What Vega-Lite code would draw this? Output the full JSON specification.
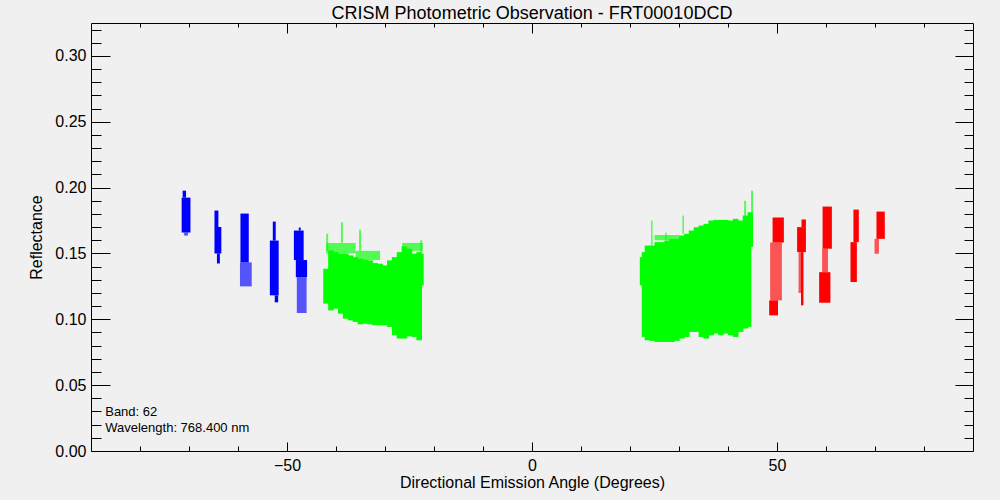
{
  "$schema": "https://vega.github.io/schema/vega-lite/v6.json",
  "width": 882,
  "height": 428,
  "autosize": "none",
  "padding": {"left": 91, "top": 23, "right": 27, "bottom": 49},
  "background": "#f0f0f0",
  "title": {
    "text": "CRISM Photometric Observation - FRT00010DCD",
    "fontSize": 18,
    "fontWeight": "normal",
    "color": "black",
    "anchor": "middle",
    "offset": 0
  },
  "datasets": {
    "segments": [
      {"group": "G1", "density": "dense", "x": -71.5, "x2": -69.7, "y": 0.1659, "y2": 0.1924},
      {"group": "G1", "density": "dense", "x": -71.3, "x2": -70.6, "y": 0.1924, "y2": 0.1977},
      {"group": "G1", "density": "sparse", "x": -71.0, "x2": -70.2, "y": 0.1636, "y2": 0.1659},
      {"group": "G1", "density": "dense", "x": -64.8, "x2": -64.0, "y": 0.170, "y2": 0.1826},
      {"group": "G1", "density": "dense", "x": -64.8, "x2": -63.4, "y": 0.150, "y2": 0.170},
      {"group": "G1", "density": "dense", "x": -64.3, "x2": -63.7, "y": 0.1424, "y2": 0.150},
      {"group": "G1", "density": "dense", "x": -59.5, "x2": -57.8, "y": 0.1432, "y2": 0.1803},
      {"group": "G1", "density": "sparse", "x": -59.6, "x2": -57.2, "y": 0.125, "y2": 0.1432},
      {"group": "G1", "density": "dense", "x": -52.9, "x2": -52.3, "y": 0.1598, "y2": 0.1742},
      {"group": "G1", "density": "dense", "x": -53.5, "x2": -51.7, "y": 0.1182, "y2": 0.1598},
      {"group": "G1", "density": "dense", "x": -52.5, "x2": -51.8, "y": 0.1129, "y2": 0.1182},
      {"group": "G1", "density": "dense", "x": -48.6, "x2": -46.6, "y": 0.145, "y2": 0.1674},
      {"group": "G1", "density": "dense", "x": -47.6, "x2": -47.2, "y": 0.1674, "y2": 0.1697},
      {"group": "G1", "density": "dense", "x": -48.2, "x2": -45.9, "y": 0.132, "y2": 0.145},
      {"group": "G1", "density": "sparse", "x": -48.0, "x2": -46.0, "y": 0.1048, "y2": 0.132},

      {"group": "G2", "density": "dense", "x": -42.6, "x2": -41.45, "y": 0.1119, "y2": 0.1384},
      {"group": "G2", "density": "dense", "x": -41.6, "x2": -40.45, "y": 0.1068, "y2": 0.1523},
      {"group": "G2", "density": "dense", "x": -40.6, "x2": -39.45, "y": 0.1081, "y2": 0.151},
      {"group": "G2", "density": "dense", "x": -39.6, "x2": -38.45, "y": 0.1043, "y2": 0.1498},
      {"group": "G2", "density": "dense", "x": -38.6, "x2": -37.45, "y": 0.1005, "y2": 0.1498},
      {"group": "G2", "density": "dense", "x": -37.6, "x2": -36.45, "y": 0.0992, "y2": 0.1485},
      {"group": "G2", "density": "dense", "x": -36.6, "x2": -35.45, "y": 0.098, "y2": 0.1472},
      {"group": "G2", "density": "dense", "x": -35.6, "x2": -34.45, "y": 0.0962, "y2": 0.146},
      {"group": "G2", "density": "dense", "x": -34.6, "x2": -33.45, "y": 0.0967, "y2": 0.1452},
      {"group": "G2", "density": "dense", "x": -33.6, "x2": -32.45, "y": 0.0962, "y2": 0.1447},
      {"group": "G2", "density": "dense", "x": -32.6, "x2": -31.45, "y": 0.0955, "y2": 0.1427},
      {"group": "G2", "density": "dense", "x": -31.6, "x2": -30.45, "y": 0.0955, "y2": 0.1422},
      {"group": "G2", "density": "dense", "x": -30.6, "x2": -29.45, "y": 0.0955, "y2": 0.1409},
      {"group": "G2", "density": "dense", "x": -29.6, "x2": -28.45, "y": 0.0942, "y2": 0.1447},
      {"group": "G2", "density": "dense", "x": -28.6, "x2": -27.45, "y": 0.0879, "y2": 0.1472},
      {"group": "G2", "density": "dense", "x": -27.6, "x2": -26.45, "y": 0.0854, "y2": 0.151},
      {"group": "G2", "density": "dense", "x": -26.6, "x2": -25.45, "y": 0.0854, "y2": 0.1553},
      {"group": "G2", "density": "dense", "x": -25.6, "x2": -24.45, "y": 0.0871, "y2": 0.1536},
      {"group": "G2", "density": "dense", "x": -24.6, "x2": -23.45, "y": 0.0866, "y2": 0.1498},
      {"group": "G2", "density": "dense", "x": -23.6, "x2": -22.45, "y": 0.0841, "y2": 0.151},
      {"group": "G2", "density": "dense", "x": -22.6, "x2": -22.1, "y": 0.1258, "y2": 0.1498},
      {"group": "G2", "density": "sparse", "x": -42.0, "x2": -36.0, "y": 0.150, "y2": 0.158},
      {"group": "G2", "density": "sparse", "x": -36.0, "x2": -31.0, "y": 0.145, "y2": 0.152},
      {"group": "G2", "density": "sparse", "x": -26.5, "x2": -22.3, "y": 0.152, "y2": 0.158},
      {"group": "G2", "density": "sparse", "x": -39.0, "x2": -38.6, "y": 0.158, "y2": 0.1737},
      {"group": "G2", "density": "sparse", "x": -35.3, "x2": -34.9, "y": 0.152, "y2": 0.168},
      {"group": "G2", "density": "sparse", "x": -42.0, "x2": -41.6, "y": 0.152, "y2": 0.165},
      {"group": "G2", "density": "sparse", "x": -22.8, "x2": -22.4, "y": 0.151, "y2": 0.160},

      {"group": "G2", "density": "dense", "x": 22.0, "x2": 22.5, "y": 0.1258, "y2": 0.1472},
      {"group": "G2", "density": "dense", "x": 22.4, "x2": 23.15, "y": 0.0866, "y2": 0.151},
      {"group": "G2", "density": "dense", "x": 23.0, "x2": 24.15, "y": 0.0841, "y2": 0.156},
      {"group": "G2", "density": "dense", "x": 24.0, "x2": 25.15, "y": 0.0836, "y2": 0.156},
      {"group": "G2", "density": "dense", "x": 25.0, "x2": 26.15, "y": 0.0828, "y2": 0.1586},
      {"group": "G2", "density": "dense", "x": 26.0, "x2": 27.15, "y": 0.0828, "y2": 0.1586},
      {"group": "G2", "density": "dense", "x": 27.0, "x2": 28.15, "y": 0.0828, "y2": 0.1598},
      {"group": "G2", "density": "dense", "x": 28.0, "x2": 29.15, "y": 0.0828, "y2": 0.1611},
      {"group": "G2", "density": "dense", "x": 29.0, "x2": 30.15, "y": 0.0836, "y2": 0.1611},
      {"group": "G2", "density": "dense", "x": 30.0, "x2": 31.15, "y": 0.0854, "y2": 0.1636},
      {"group": "G2", "density": "dense", "x": 31.0, "x2": 32.15, "y": 0.0866, "y2": 0.1649},
      {"group": "G2", "density": "dense", "x": 32.0, "x2": 33.15, "y": 0.0904, "y2": 0.1674},
      {"group": "G2", "density": "dense", "x": 33.0, "x2": 34.15, "y": 0.0904, "y2": 0.1699},
      {"group": "G2", "density": "dense", "x": 34.0, "x2": 35.15, "y": 0.0866, "y2": 0.1712},
      {"group": "G2", "density": "dense", "x": 35.0, "x2": 36.15, "y": 0.0854, "y2": 0.1725},
      {"group": "G2", "density": "dense", "x": 36.0, "x2": 37.15, "y": 0.0879, "y2": 0.175},
      {"group": "G2", "density": "dense", "x": 37.0, "x2": 38.15, "y": 0.0892, "y2": 0.1755},
      {"group": "G2", "density": "dense", "x": 38.0, "x2": 39.15, "y": 0.0879, "y2": 0.1755},
      {"group": "G2", "density": "dense", "x": 39.0, "x2": 40.15, "y": 0.0892, "y2": 0.1755},
      {"group": "G2", "density": "dense", "x": 40.0, "x2": 41.15, "y": 0.0879, "y2": 0.175},
      {"group": "G2", "density": "dense", "x": 41.0, "x2": 42.15, "y": 0.0866, "y2": 0.1763},
      {"group": "G2", "density": "dense", "x": 42.0, "x2": 43.15, "y": 0.0904, "y2": 0.175},
      {"group": "G2", "density": "dense", "x": 43.0, "x2": 44.15, "y": 0.093, "y2": 0.1788},
      {"group": "G2", "density": "dense", "x": 44.0, "x2": 44.75, "y": 0.0942, "y2": 0.1813},
      {"group": "G2", "density": "dense", "x": 44.6, "x2": 45.1, "y": 0.155, "y2": 0.1813},
      {"group": "G2", "density": "sparse", "x": 44.7, "x2": 45.1, "y": 0.1813, "y2": 0.1977},
      {"group": "G2", "density": "sparse", "x": 43.3, "x2": 43.7, "y": 0.178, "y2": 0.190},
      {"group": "G2", "density": "sparse", "x": 24.3, "x2": 24.6, "y": 0.156, "y2": 0.175},
      {"group": "G2", "density": "sparse", "x": 27.2, "x2": 27.5, "y": 0.160, "y2": 0.166},
      {"group": "G2", "density": "sparse", "x": 30.7, "x2": 31.0, "y": 0.1649, "y2": 0.1788},
      {"group": "G2", "density": "sparse", "x": 25.0, "x2": 30.0, "y": 0.160, "y2": 0.164},

      {"group": "G3", "density": "dense", "x": 49.1, "x2": 51.4, "y": 0.1583, "y2": 0.1773},
      {"group": "G3", "density": "sparse", "x": 48.6, "x2": 51.0, "y": 0.1144, "y2": 0.1583},
      {"group": "G3", "density": "dense", "x": 48.4, "x2": 50.2, "y": 0.103, "y2": 0.1144},
      {"group": "G3", "density": "dense", "x": 54.1, "x2": 55.9, "y": 0.151, "y2": 0.170},
      {"group": "G3", "density": "dense", "x": 55.0, "x2": 55.9, "y": 0.170, "y2": 0.1758},
      {"group": "G3", "density": "dense", "x": 54.9, "x2": 55.4, "y": 0.1106, "y2": 0.151},
      {"group": "G3", "density": "sparse", "x": 54.4, "x2": 54.9, "y": 0.120, "y2": 0.151},
      {"group": "G3", "density": "dense", "x": 59.3, "x2": 61.2, "y": 0.1536, "y2": 0.1856},
      {"group": "G3", "density": "sparse", "x": 59.2, "x2": 60.4, "y": 0.1358, "y2": 0.1536},
      {"group": "G3", "density": "dense", "x": 58.6, "x2": 60.9, "y": 0.1126, "y2": 0.1358},
      {"group": "G3", "density": "dense", "x": 65.6, "x2": 66.7, "y": 0.1586, "y2": 0.1833},
      {"group": "G3", "density": "dense", "x": 65.0, "x2": 66.3, "y": 0.1283, "y2": 0.1586},
      {"group": "G3", "density": "dense", "x": 70.3, "x2": 72.0, "y": 0.1611, "y2": 0.1818},
      {"group": "G3", "density": "sparse", "x": 69.9, "x2": 70.8, "y": 0.1498, "y2": 0.1611}
    ],
    "notes": [
      {"label": "Band: 62", "x": -87.1, "y": 0.0294},
      {"label": "Wavelength: 768.400 nm", "x": -87.1, "y": 0.0174}
    ]
  },
  "layer": [
    {
      "data": {"name": "segments"},
      "mark": {"type": "rect"},
      "encoding": {
        "x": {
          "field": "x",
          "type": "quantitative",
          "scale": {"domain": [-90, 90], "nice": false, "zero": false},
          "axis": {
            "orient": "bottom",
            "values": [-50, 0, 50],
            "format": "d",
            "ticks": false,
            "domain": false,
            "grid": false,
            "labelPadding": 6,
            "labelFlush": false,
            "title": "Directional Emission Angle (Degrees)",
            "titlePadding": 1
          }
        },
        "x2": {"field": "x2"},
        "y": {
          "field": "y",
          "type": "quantitative",
          "scale": {"domain": [0, 0.325], "nice": false, "zero": false},
          "axis": {
            "orient": "left",
            "values": [0, 0.05, 0.1, 0.15, 0.2, 0.25, 0.3],
            "format": ".2f",
            "ticks": false,
            "domain": false,
            "grid": false,
            "labelPadding": 5,
            "labelFlush": false,
            "title": "Reflectance",
            "titlePadding": 10
          }
        },
        "y2": {"field": "y2"},
        "color": {
          "field": "group",
          "type": "nominal",
          "scale": {"domain": ["G1", "G2", "G3"], "range": ["#0000ff", "#00ff00", "#ff0000"]},
          "legend": null
        },
        "opacity": {
          "field": "density",
          "type": "nominal",
          "scale": {"domain": ["dense", "sparse"], "range": [1, 0.65]},
          "legend": null
        }
      }
    },
    {
      "data": {"name": "notes"},
      "mark": {"type": "text", "align": "left", "baseline": "middle", "fontSize": 13, "color": "black"},
      "encoding": {
        "x": {
          "field": "x",
          "type": "quantitative",
          "axis": {"orient": "bottom", "values": [-50, 0, 50], "labels": false, "domain": false, "grid": false, "tickSize": -9, "title": null}
        },
        "y": {
          "field": "y",
          "type": "quantitative",
          "axis": {"orient": "left", "values": [0, 0.05, 0.1, 0.15, 0.2, 0.25, 0.3], "labels": false, "domain": false, "grid": false, "tickSize": -19, "title": null}
        },
        "text": {"field": "label"}
      }
    },
    {
      "data": {"values": [{}]},
      "mark": {"type": "point", "opacity": 0},
      "encoding": {
        "x": {
          "datum": 0,
          "type": "quantitative",
          "axis": {"orient": "bottom", "values": [-80, -70, -60, -40, -30, -20, -10, 10, 20, 30, 40, 60, 70, 80], "labels": false, "domain": false, "grid": false, "tickSize": -5, "title": null}
        },
        "y": {
          "datum": 0,
          "type": "quantitative",
          "axis": {"orient": "left", "values": [0.01, 0.02, 0.03, 0.04, 0.06, 0.07, 0.08, 0.09, 0.11, 0.12, 0.13, 0.14, 0.16, 0.17, 0.18, 0.19, 0.21, 0.22, 0.23, 0.24, 0.26, 0.27, 0.28, 0.29, 0.31, 0.32], "labels": false, "domain": false, "grid": false, "tickSize": -10, "title": null}
        }
      }
    },
    {
      "data": {"values": [{}]},
      "mark": {"type": "point", "opacity": 0},
      "encoding": {
        "x": {
          "datum": 0,
          "type": "quantitative",
          "axis": {"orient": "top", "values": [-50, 0, 50], "labels": false, "domain": false, "grid": false, "tickSize": -10, "title": null}
        },
        "y": {
          "datum": 0,
          "type": "quantitative",
          "axis": {"orient": "right", "values": [0, 0.05, 0.1, 0.15, 0.2, 0.25, 0.3], "labels": false, "domain": false, "grid": false, "tickSize": -18, "title": null}
        }
      }
    },
    {
      "data": {"values": [{}]},
      "mark": {"type": "point", "opacity": 0},
      "encoding": {
        "x": {
          "datum": 0,
          "type": "quantitative",
          "axis": {"orient": "top", "values": [-80, -70, -60, -40, -30, -20, -10, 10, 20, 30, 40, 60, 70, 80], "labels": false, "domain": false, "grid": false, "tickSize": -4, "title": null}
        },
        "y": {
          "datum": 0,
          "type": "quantitative",
          "axis": {"orient": "right", "values": [0.01, 0.02, 0.03, 0.04, 0.06, 0.07, 0.08, 0.09, 0.11, 0.12, 0.13, 0.14, 0.16, 0.17, 0.18, 0.19, 0.21, 0.22, 0.23, 0.24, 0.26, 0.27, 0.28, 0.29, 0.31, 0.32], "labels": false, "domain": false, "grid": false, "tickSize": -9, "title": null}
        }
      }
    }
  ],
  "resolve": {"axis": {"x": "independent", "y": "independent"}},
  "config": {
    "font": "Liberation Sans",
    "view": {"stroke": "black", "strokeWidth": 1},
    "axis": {
      "labelFontSize": 16,
      "labelColor": "black",
      "titleFontSize": 16,
      "titleFontWeight": "normal",
      "titleColor": "black",
      "tickColor": "black",
      "tickWidth": 1
    }
  }
}
